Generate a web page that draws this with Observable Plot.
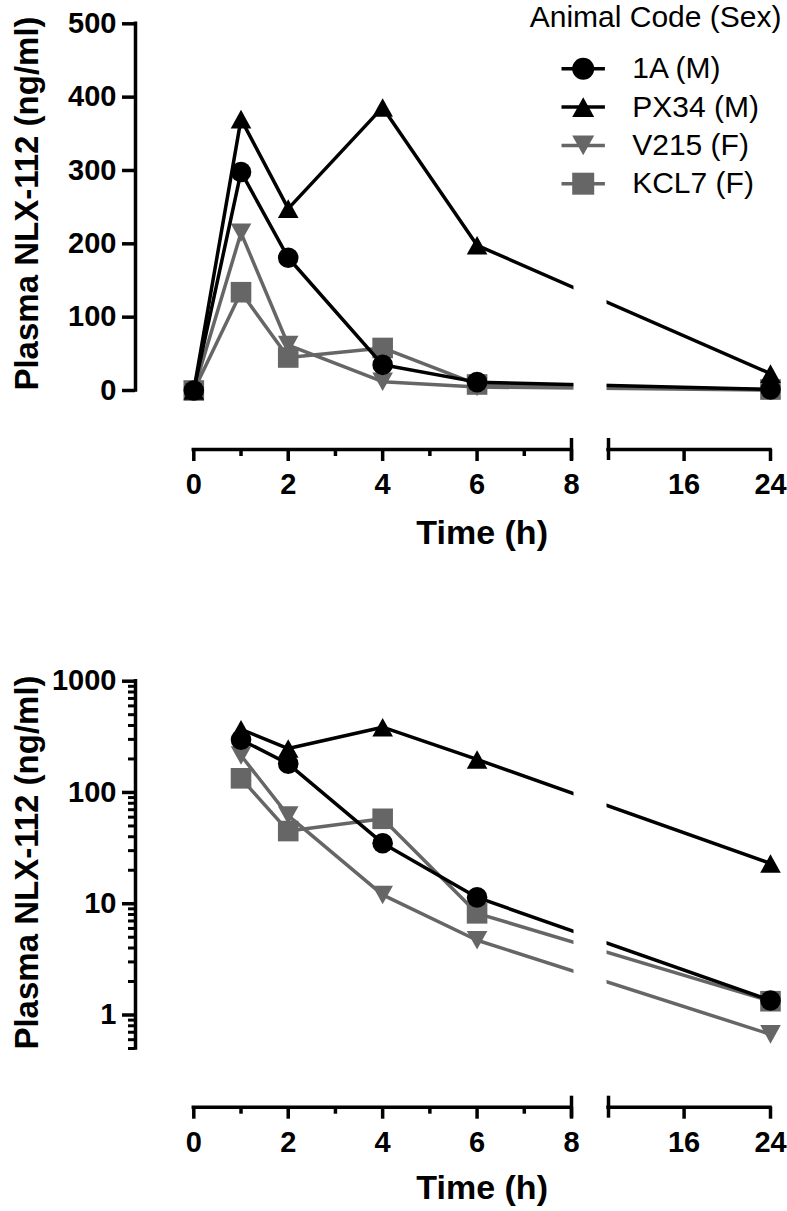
<!DOCTYPE html>
<html>
<head>
<meta charset="utf-8">
<script src="https://cdn.jsdelivr.net/npm/d3@7"></script>
<script src="https://cdn.jsdelivr.net/npm/@observablehq/plot@0.6"></script>
<style>
  html, body { margin: 0; padding: 0; background: #fff; }
  #chart { width: 787px; }
  #chart svg { display: block; }
</style>
</head>
<body>
<div id="chart"></div>
<script>
// ---------- data ----------
const times = [0, 1, 2, 4, 6, 24];
const seriesNames = ["1A (M)", "PX34 (M)", "V215 (F)", "KCL7 (F)"];
const values1A   = [0, 298, 181, 35, 11.4, 1.35];
const valuesPX34 = [0, 370, 248, 386, 198, 23];
const valuesV215 = [0, 215, 62, 12, 4.7, 0.67];
const valuesKCL7 = [0, 134, 45, 58, 8.2, 1.33];
const seriesColors = ["#000000", "#000000", "#666666", "#666666"];
const legendTitle = "Animal Code (Sex)";
const yTitle = "Plasma NLX-112 (ng/ml)";
const xTitle = "Time (h)";
const linearTicks = [0, 100, 200, 300, 400, 500];
const logTicks = [1, 10, 100, 1000];
const logMinorTicks = [0.5, 0.6, 0.7, 0.8, 0.9, 2, 3, 4, 5, 6, 7, 8, 9, 20, 30, 40, 50, 60, 70, 80, 90, 200, 300, 400, 500, 600, 700, 800, 900];
const xMajorTicks = [0, 2, 4, 6, 8, 16, 24];
const xMinorTicks = [1, 3, 5, 7];
const xBreak = [8, 9];           // left segment ends at 8, right segment starts after the gap
const xSegments = [[0, 8], [9, 24]];

// ---------- symbols ----------
const rOf = size => Math.sqrt(size / Math.PI);
const symCircle = {draw(c, s) { const r = rOf(s); c.moveTo(r, 0); c.arc(0, 0, r, 0, 2 * Math.PI); c.closePath(); }};
const symUp = {draw(c, s) { const r = rOf(s); c.moveTo(0, -0.9 * r); c.lineTo(r, 0.9 * r); c.lineTo(-r, 0.9 * r); c.closePath(); }};
const symDown = {draw(c, s) { const r = rOf(s); c.moveTo(-r, -0.9 * r); c.lineTo(r, -0.9 * r); c.lineTo(0, 0.9 * r); c.closePath(); }};
const symSquare = {draw(c, s) { const r = rOf(s); c.rect(-r, -r, 2 * r, 2 * r); }};
const symHLine = {draw(c, s) { const r = rOf(s); c.moveTo(-r, 0); c.lineTo(r, 0); }};

const seriesValues = [values1A, valuesPX34, valuesV215, valuesKCL7];
const seriesSymbols = [symCircle, symUp, symDown, symSquare];
const series = seriesNames.map((name, i) => ({
  name, values: seriesValues[i], color: seriesColors[i], symbol: seriesSymbols[i]
}));

// ---------- layout ----------
const W = 787, LEFT = 135, RIGHT = 6, TOP = 20;
const xDomain = [0, xBreak[0], xBreak[1], 24];
const xRangePx = [193.3, 571, 608, 770];
const FONT = '"Liberation Sans", Arial, Helvetica, sans-serif';
const LW = 3.5;

function buildPanel(cfg) {
  const {height, axisPx, yOpts, yTicks, yMinor, positiveOnly, titleCenterY, timeCenterY, withLegend} = cfg;
  const marks = [];
  // series (last drawn on top)
  for (const s of [...series].reverse()) {
    const data = times.map((t, j) => ({t, v: s.values[j]})).filter(d => !positiveOnly || d.v > 0);
    marks.push(Plot.line(data, {x: "t", y: "v", stroke: s.color, strokeWidth: LW}));
    marks.push(Plot.dot(data, {x: "t", y: "v", symbol: s.symbol, r: 10.3, fill: s.color}));
  }
  // axis break gap
  marks.push(Plot.rect([xBreak], {x1: d => d[0], x2: d => d[1], fill: "white", insetLeft: 2.5, insetRight: 1.5}));
  // y axis
  marks.push(Plot.ruleX([yOpts.domain], {x: () => xDomain[0], y1: d => d[0], y2: d => d[1],
    dx: LEFT - xRangePx[0], stroke: "black", strokeWidth: LW, strokeLinecap: "square"}));
  marks.push(Plot.axisY({ticks: yTicks, tickSize: 13, tickPadding: 6, strokeWidth: LW,
    fontSize: 29, fontWeight: "bold", tickFormat: d => String(d), label: null}));
  if (yMinor) {
    marks.push(Plot.axisY({ticks: yMinor, tickSize: 7, strokeWidth: 3, tickFormat: () => "", label: null}));
  }
  // x axis (broken)
  marks.push(Plot.ruleY(xSegments, {x1: d => d[0], x2: d => d[1], y: () => yOpts.domain[0],
    dy: axisPx - yOpts.range[0], stroke: "black", strokeWidth: LW, strokeLinecap: "square"}));
  marks.push(Plot.axisX({ticks: xMajorTicks, tickSize: 12, tickPadding: 12, strokeWidth: LW,
    fontSize: 29, fontWeight: "bold", tickFormat: d => String(d), label: null}));
  marks.push(Plot.axisX({ticks: xMinorTicks, tickSize: 7, strokeWidth: LW, tickFormat: () => "", label: null}));
  marks.push(Plot.axisX({ticks: xBreak, tickSize: 22, dy: -11, strokeWidth: LW, tickFormat: () => "", label: null}));
  // axis titles
  const frameMidY = (TOP + axisPx) / 2;
  const frameMidX = (LEFT + W - RIGHT) / 2;
  marks.push(Plot.text([yTitle], {frameAnchor: "left", rotate: -90, textAnchor: "middle", lineAnchor: "middle",
    dx: 27 - LEFT, dy: titleCenterY - frameMidY, fontSize: 33, fontWeight: "bold", fill: "black"}));
  marks.push(Plot.text([xTitle], {frameAnchor: "bottom", textAnchor: "middle", lineAnchor: "middle",
    dx: (xRangePx[0] + xRangePx[3]) / 2 - frameMidX, dy: timeCenterY - axisPx,
    fontSize: 34, fontWeight: "bold", fill: "black"}));
  // legend
  if (withLegend) {
    marks.push(Plot.text([legendTitle], {frameAnchor: "top-right", dy: -3, textAnchor: "end", lineAnchor: "middle",
      fontSize: 30, fill: "black"}));
    series.forEach((s, i) => {
      const dy = 48.3 + 38.3 * i;
      marks.push(Plot.dot([s.name], {frameAnchor: "top-left", dx: 582.7 - LEFT, dy, symbol: symHLine, r: 21.7,
        stroke: s.color, strokeWidth: LW, fill: "none"}));
      marks.push(Plot.dot([s.name], {frameAnchor: "top-left", dx: 582.7 - LEFT, dy, symbol: s.symbol, r: 11,
        fill: s.color}));
      marks.push(Plot.text([s.name], {frameAnchor: "top-left", dx: 631.7 - LEFT, dy, textAnchor: "start",
        lineAnchor: "middle", fontSize: 30, fill: "black"}));
    });
  }
  return Plot.plot({
    width: W, height,
    marginLeft: LEFT, marginRight: RIGHT, marginTop: TOP, marginBottom: height - axisPx,
    style: {fontFamily: FONT, background: "white", color: "black", overflow: "visible"},
    x: {type: "linear", domain: xDomain, range: xRangePx},
    y: yOpts,
    marks
  });
}

const chart = document.getElementById("chart");
chart.appendChild(buildPanel({
  height: 600, axisPx: 449,
  yOpts: {type: "linear", domain: [0, 500], range: [390, 23.3]},
  yTicks: linearTicks, yMinor: null, positiveOnly: false,
  titleCenterY: 203, timeCenterY: 533, withLegend: true
}));
chart.appendChild(buildPanel({
  height: 611, axisPx: 506.7,
  yOpts: {type: "log", domain: [0.5, 1000], range: [448, 80.7]},
  yTicks: logTicks, yMinor: logMinorTicks, positiveOnly: true,
  titleCenterY: 262, timeCenterY: 588, withLegend: false
}));
</script>
</body>
</html>
